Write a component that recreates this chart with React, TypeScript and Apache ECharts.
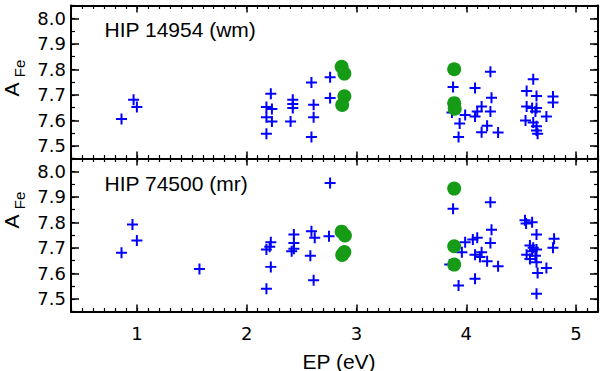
import React, { useEffect, useRef } from "react";
import * as echarts from "echarts";

// ---- data (EP in eV, A_Fe) ----
const epTickValues = [1, 2, 3, 4, 5];
const aFeTickValues = [7.5, 7.6, 7.7, 7.8, 7.9, 8.0];
const panelTitles = ["HIP 14954 (wm)", "HIP 74500 (mr)"];
const xAxisTitle = "EP (eV)";

const hip14954Lines: number[][] = [
  [0.86, 7.605], [0.97, 7.68], [1.0, 7.652],
  [2.22, 7.704], [2.18, 7.652], [2.23, 7.644], [2.18, 7.612], [2.23, 7.595], [2.18, 7.547],
  [2.42, 7.68], [2.42, 7.664], [2.42, 7.648], [2.4, 7.595],
  [2.59, 7.748], [2.61, 7.661], [2.61, 7.612], [2.59, 7.534],
  [2.76, 7.769], [2.76, 7.687],
  [3.88, 7.73], [3.87, 7.63], [3.93, 7.534], [3.94, 7.587], [3.99, 7.621], [4.08, 7.726],
  [4.08, 7.615], [4.1, 7.634], [4.14, 7.654], [4.14, 7.553], [4.19, 7.578], [4.22, 7.79],
  [4.23, 7.688], [4.22, 7.634], [4.29, 7.552],
  [4.55, 7.715], [4.61, 7.761], [4.64, 7.695], [4.55, 7.654], [4.6, 7.648], [4.64, 7.648],
  [4.63, 7.634], [4.73, 7.615], [4.54, 7.599], [4.61, 7.591], [4.64, 7.576], [4.64, 7.56],
  [4.65, 7.547], [4.79, 7.693], [4.79, 7.67],
];
const hip14954Dots: number[][] = [
  [2.865, 7.81], [2.89, 7.783], [2.89, 7.694], [2.87, 7.66],
  [3.89, 7.8], [3.89, 7.667], [3.895, 7.645],
];
const hip74500Lines: number[][] = [
  [0.86, 7.68], [0.96, 7.791], [1.0, 7.728], [1.57, 7.617],
  [2.18, 7.693], [2.22, 7.722], [2.21, 7.704], [2.22, 7.625], [2.18, 7.539],
  [2.43, 7.752], [2.43, 7.719], [2.43, 7.696], [2.41, 7.686],
  [2.59, 7.765], [2.62, 7.739], [2.58, 7.669], [2.61, 7.573],
  [2.76, 7.954], [2.75, 7.745],
  [3.88, 7.853], [3.85, 7.634], [3.93, 7.552], [3.96, 7.682], [3.99, 7.722], [4.06, 7.732],
  [4.1, 7.739], [4.08, 7.673], [4.08, 7.578], [4.125, 7.664], [4.14, 7.682], [4.19, 7.647],
  [4.22, 7.878], [4.23, 7.771], [4.22, 7.719], [4.29, 7.627],
  [4.535, 7.808], [4.545, 7.795], [4.6, 7.8], [4.64, 7.752], [4.58, 7.709], [4.61, 7.7],
  [4.64, 7.693], [4.6, 7.686], [4.55, 7.673], [4.63, 7.669], [4.58, 7.656], [4.64, 7.643],
  [4.73, 7.621], [4.65, 7.601], [4.64, 7.52], [4.8, 7.735], [4.79, 7.7],
];
const hip74500Dots: number[][] = [
  [2.865, 7.763], [2.895, 7.748], [2.87, 7.672], [2.89, 7.683],
  [3.89, 7.932], [3.89, 7.706], [3.89, 7.634],
];

const BLUE = "#0000ff";
const GREEN = "#169b16";
const PLUS = "path://M4.5,0H6.5V4.5H11V6.5H6.5V11H4.5V6.5H0V4.5H4.5Z";
const TICK_FONT = "DejaVu Sans";
const TEXT_FONT = "Liberation Sans";

function xAxesFor(gridIndex: number, showLabels: boolean) {
  const base = { type: "value", gridIndex, min: 0.4, max: 5.2, splitLine: { show: false } };
  const major = (position: string, labels: boolean) => ({
    ...base,
    position,
    axisLine: { show: true, lineStyle: { color: "#000", width: 2 } },
    axisTick: { show: true, inside: true, length: 7, customValues: epTickValues, lineStyle: { color: "#000", width: 1.5 } },
    axisLabel: labels
      ? { show: true, customValues: epTickValues, color: "#000", fontFamily: TICK_FONT, fontSize: 18, margin: 22, verticalAlign: "middle" }
      : { show: false },
  });
  const minor = (position: string) => ({
    ...base,
    position,
    interval: 0.1,
    axisLine: { show: false },
    axisTick: { show: true, inside: true, length: 3.5, lineStyle: { color: "#000", width: 1.2 } },
    axisLabel: { show: false },
  });
  return [major("bottom", showLabels), major("top", false), minor("bottom"), minor("top")];
}

function yAxesFor(gridIndex: number) {
  const base = { type: "value", gridIndex, min: 7.45, max: 8.05, splitLine: { show: false } };
  const major = (position: string, labels: boolean) => ({
    ...base,
    position,
    axisLine: { show: true, lineStyle: { color: "#000", width: 2 } },
    axisTick: { show: true, inside: true, length: 8, customValues: aFeTickValues, lineStyle: { color: "#000", width: 1.5 } },
    axisLabel: labels
      ? {
          show: true,
          customValues: aFeTickValues,
          formatter: (v: number) => v.toFixed(1),
          color: "#000",
          fontFamily: TICK_FONT,
          fontSize: 18,
          margin: 5,
          padding: [4, 0, 0, 0],
        }
      : { show: false },
  });
  const minor = (position: string) => ({
    ...base,
    position,
    interval: 0.05,
    axisLine: { show: false },
    axisTick: { show: true, inside: true, length: 4, lineStyle: { color: "#000", width: 1.2 } },
    axisLabel: { show: false },
  });
  return [major("left", true), major("right", false), minor("left"), minor("right")];
}

function aFeLabel(aY: number, feY: number) {
  return [
    {
      type: "text",
      x: 11,
      y: aY,
      rotation: Math.PI / 2,
      style: { text: "A", fontFamily: TEXT_FONT, fontSize: 21, fill: "#000", textAlign: "center", textVerticalAlign: "middle" },
    },
    {
      type: "text",
      x: 19.5,
      y: feY,
      rotation: Math.PI / 2,
      style: { text: "Fe", fontFamily: TEXT_FONT, fontSize: 15, fill: "#000", textAlign: "center", textVerticalAlign: "middle" },
    },
  ];
}

export default function App() {
  const ref = useRef<HTMLDivElement>(null);
  useEffect(() => {
    if (!ref.current) return;
    const chart = echarts.init(ref.current, undefined, { renderer: "svg" });
    const option: any = {
      animation: false,
      backgroundColor: "#ffffff",
      grid: [
        { left: 71, right: 2, top: 5.5, height: 153 },
        { left: 71, right: 2, top: 158.5, height: 153 },
      ],
      xAxis: [...xAxesFor(0, false), ...xAxesFor(1, true)],
      yAxis: [...yAxesFor(0), ...yAxesFor(1)],
      series: [
        { type: "scatter", xAxisIndex: 0, yAxisIndex: 0, data: hip14954Lines, symbol: PLUS, symbolSize: 11, itemStyle: { color: BLUE, opacity: 1 } },
        { type: "scatter", xAxisIndex: 0, yAxisIndex: 0, data: hip14954Dots, symbol: "circle", symbolSize: 14, itemStyle: { color: GREEN, opacity: 1 } },
        { type: "scatter", xAxisIndex: 4, yAxisIndex: 4, data: hip74500Lines, symbol: PLUS, symbolSize: 11, itemStyle: { color: BLUE, opacity: 1 } },
        { type: "scatter", xAxisIndex: 4, yAxisIndex: 4, data: hip74500Dots, symbol: "circle", symbolSize: 14, itemStyle: { color: GREEN, opacity: 1 } },
      ],
      graphic: [
        {
          type: "text",
          x: 104.5,
          y: 29,
          style: { text: panelTitles[0], fontFamily: TEXT_FONT, fontSize: 21, fill: "#000", textAlign: "left", textVerticalAlign: "middle" },
        },
        {
          type: "text",
          x: 104.5,
          y: 183,
          style: { text: panelTitles[1], fontFamily: TEXT_FONT, fontSize: 21, fill: "#000", textAlign: "left", textVerticalAlign: "middle" },
        },
        {
          type: "text",
          x: 339,
          y: 361,
          style: { text: xAxisTitle, fontFamily: TEXT_FONT, fontSize: 21, fill: "#000", textAlign: "center", textVerticalAlign: "middle" },
        },
        ...aFeLabel(89.5, 68.5),
        ...aFeLabel(221.5, 200.5),
      ],
    };
    chart.setOption(option);
    return () => chart.dispose();
  }, []);
  return (
    <div
      ref={ref}
      style={{ position: "fixed", left: 0, top: 0, width: 600, height: 371, background: "#fff" }}
    />
  );
}
